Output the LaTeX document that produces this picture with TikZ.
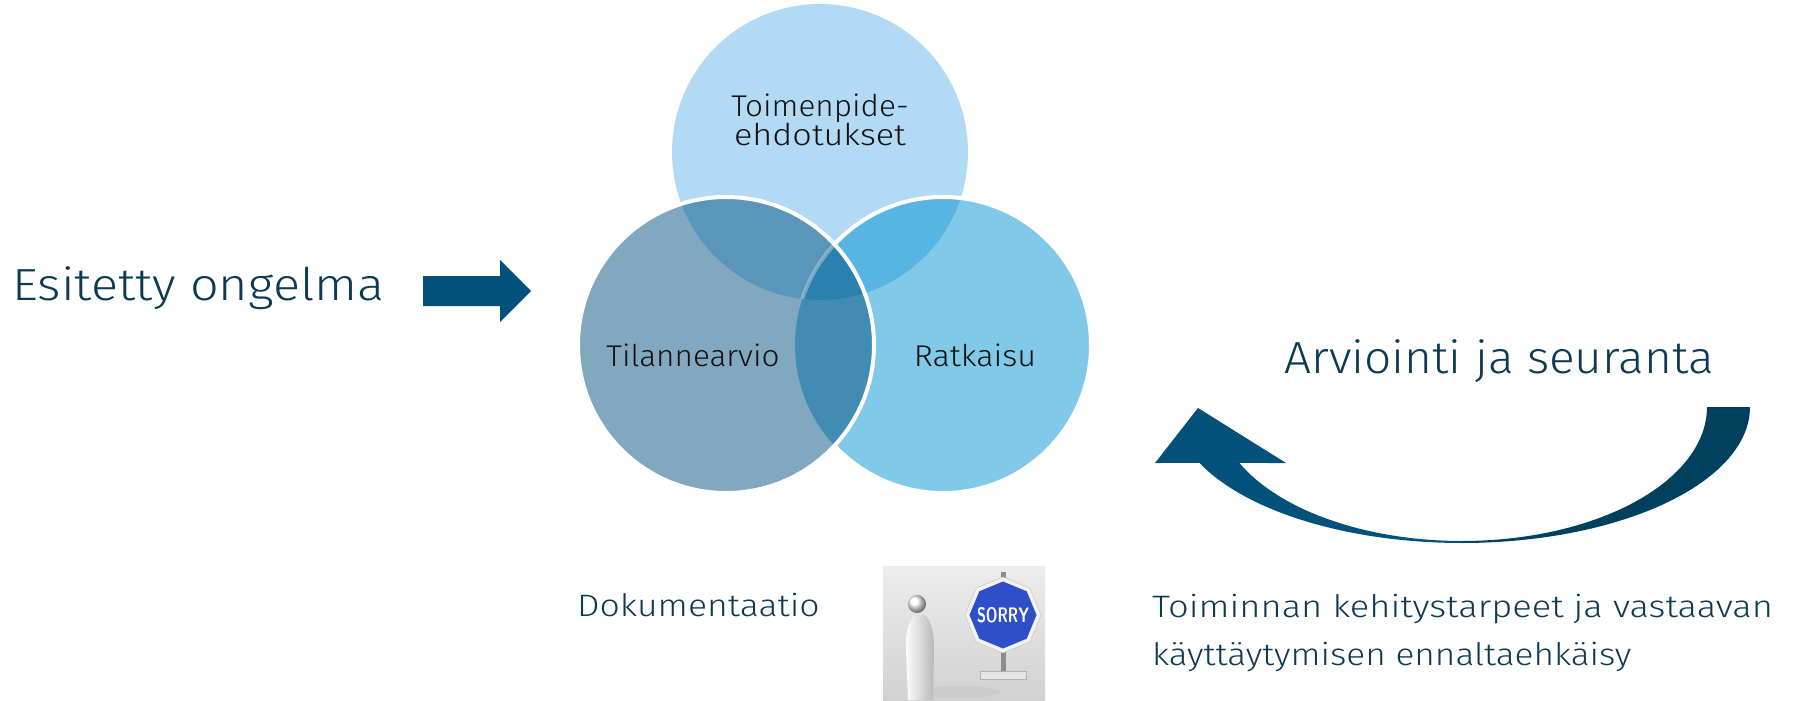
\documentclass[tikz,border=0pt]{standalone}
\usepackage{fontspec}
\usepackage{graphicx}
\setmainfont{Fira Sans}[UprightFont={* Light}]
\usetikzlibrary{shapes.geometric}
\definecolor{txt}{HTML}{0C3A52}
\definecolor{ctxt}{HTML}{111111}
\definecolor{cTop}{HTML}{B3DAF5}
\definecolor{cRight}{HTML}{80C9E8}
\definecolor{cLeft}{HTML}{82A8C0}
\definecolor{cTR}{HTML}{58B4E1}
\definecolor{cTL}{HTML}{5A96B9}
\definecolor{cLR}{HTML}{428BB2}
\definecolor{cTLR}{HTML}{2B81AE}
\definecolor{arrA}{HTML}{02517B}
\definecolor{arrB}{HTML}{00405F}
\definecolor{signblue}{HTML}{2F4FC8}
\newcommand{\fstr}[1]{\addfontfeature{FakeStretch=#1}}
\begin{document}
\begin{tikzpicture}[x=1pt,y=-1pt,
  bigtxt/.style={text=txt, inner sep=0pt, font=\fontsize{45}{50}\selectfont},
  midtxt/.style={text=txt, inner sep=0pt, font=\fontsize{31}{36}\selectfont},
  clbl/.style={text=ctxt, inner sep=0pt, font=\fontsize{30}{29}\selectfont},
  border/.style={white, line width=4pt}]
\useasboundingbox (0,0) rectangle (1794,701);
% --- Venn circles
\fill[cTop] (820,152) circle[radius=148];
\fill[cRight] (943,345) circle[radius=148];
\begin{scope}
  \clip (820,152) circle[radius=148];
  \fill[cTR] (943,345) circle[radius=148];
\end{scope}
\draw[border] (943,345) circle[radius=148];
\fill[cLeft] (726,345) circle[radius=148];
\begin{scope}
  \clip (726,345) circle[radius=148];
  \fill[cTL] (820,152) circle[radius=148];
  \fill[cLR] (943,345) circle[radius=148];
  \clip (820,152) circle[radius=148];
  \fill[cTLR] (943,345) circle[radius=148];
  \draw[white, opacity=0.3, line width=4pt] (943,345) circle[radius=148];
\end{scope}
\draw[border] (726,345) circle[radius=148];
% --- circle labels
\node[clbl, anchor=south, align=center] (toim) at (820,146)
  {{\fstr{1.05}Toimenpide-}\\{\fstr{1.14}ehdotukset}};
\node[clbl, anchor=base, font=\fontsize{30}{29}\selectfont\fstr{1.05}] (til) at (693,366) {Tilannearvio};
\node[clbl, anchor=base, font=\fontsize{30}{29}\selectfont\fstr{1.08}] (rat) at (975,366) {Ratkaisu};
% --- left text and arrow
\node[bigtxt, anchor=base west, font=\fontsize{45}{50}\selectfont\fstr{1.12}] (esi) at (12,300) {Esitetty ongelma};
\fill[arrA] (423,276) -- (500,276) -- (500,260) -- (531,291) -- (500,322) -- (500,306) -- (423,306) -- cycle;
% --- curved arrow
\fill[arrB] plot[domain=0:90,samples=50] ({1462+288*cos(\x)},{407+136*sin(\x)})
  -- plot[domain=90:0,samples=50] ({1462+245*cos(\x)},{407+134*sin(\x)}) -- cycle;
\fill[arrA] plot[domain=90:155.7,samples=50] ({1462+288*cos(\x)},{407+136*sin(\x)})
  -- (1155,463) -- (1198,408) -- (1286,463)
  -- plot[domain=155.3:90,samples=50] ({1462+245*cos(\x)},{407+134*sin(\x)}) -- cycle;
\node[bigtxt, anchor=base west, font=\fontsize{45}{50}\selectfont\fstr{1.063}] (arv) at (1284,373) {Arviointi ja seuranta};
% --- bottom texts
\node[midtxt, anchor=base west, font=\fontsize{31}{36}\selectfont\fstr{1.147}] (dok) at (577,616) {Dokumentaatio};
\node[midtxt, anchor=base west, font=\fontsize{31}{36}\selectfont\fstr{1.17}] (toi1) at (1152,617) {Toiminnan kehitystarpeet ja vastaavan};
\node[midtxt, anchor=base west, font=\fontsize{31}{36}\selectfont\fstr{1.135}] (toi2) at (1152,665) {käyttäytymisen ennaltaehkäisy};
% --- sorry picture
\shade[top color=black!7, bottom color=black!18] (883,566) rectangle (1045,701);
\fill[black!22, opacity=0.6] (960,692) ellipse[x radius=40, y radius=6];
\shade[left color=white, right color=black!28] (908,700) -- (906,650) .. controls (905,625) and (912,614) .. (920,614) .. controls (930,614) and (934,630) .. (934,650) -- (933,700) -- cycle;
\shade[ball color=white] (917,604) circle[radius=9];
\fill[black!45] (1001,572) rectangle (1006,676);
\fill[black!10] (980,671) rectangle (1026,679);
\draw[black!30, line width=0.5pt] (980,671) rectangle (1026,679);
\node[regular polygon, regular polygon sides=8, shape border rotate=22.5, fill=white!95!black, draw=black!25, minimum size=76pt, inner sep=0pt] (octo) at (1003,615) {};
\node[regular polygon, regular polygon sides=8, shape border rotate=22.5, fill=signblue, minimum size=67pt, inner sep=0pt] (octin) at (1003,615) {};
\node[text=white, inner sep=0pt] (sorry) at (1003,615) {\resizebox{52pt}{15pt}{\sffamily\bfseries SORRY}};
\end{tikzpicture}
\end{document}
